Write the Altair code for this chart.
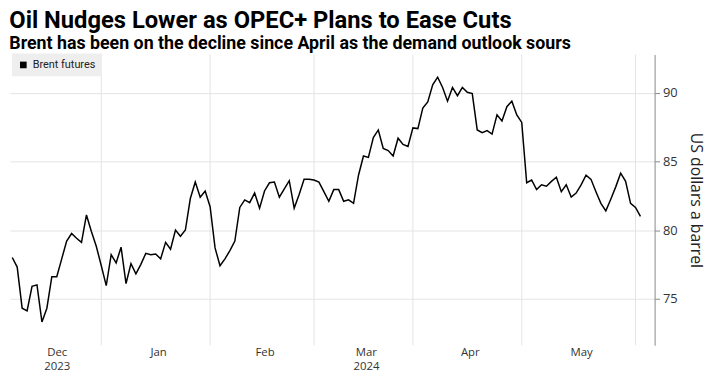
import altair as alt
import pandas as pd

# Brent futures, one value per trading day
prices = [
    78.0, 77.3, 74.3, 74.1, 75.9, 76.0, 73.3, 74.3, 76.6, 76.6,
    77.9, 79.2, 79.75, 79.4, 79.1, 81.1, 79.9, 78.8, 77.4, 75.95,
    78.2, 77.6, 78.75, 76.1, 77.55, 76.8, 77.5, 78.3, 78.2, 78.25,
    77.9, 79.1, 78.6, 80.0, 79.55, 80.0, 82.3, 83.5, 82.4, 82.85,
    81.7, 78.7, 77.4, 77.9, 78.5, 79.2, 81.65, 82.2, 82.0, 82.7,
    81.6, 82.85, 83.45, 83.5, 82.4, 83.0, 83.6, 81.6, 82.6, 83.7,
    83.7, 83.65, 83.5, 82.8, 82.1, 82.95, 82.95, 82.1, 82.2, 81.95,
    84.0, 85.4, 85.3, 86.75, 87.3, 85.95, 85.8, 85.4, 86.7, 86.25,
    86.1, 87.45, 87.4, 88.9, 89.35, 90.6, 91.15, 90.4, 89.4, 90.4,
    89.8, 90.4, 90.05, 89.95, 87.3, 87.1, 87.25, 87.0, 88.4, 87.95,
    89.0, 89.4, 88.4, 87.85, 83.45, 83.65, 82.95, 83.3, 83.2, 83.55,
    83.85, 82.8, 83.3, 82.4, 82.7, 83.3, 84.0, 83.7, 82.8, 81.95,
    81.4, 82.25, 83.15, 84.15, 83.55, 81.95, 81.65, 81.0,
]
start_date = "2023-12-04"
end_date = "2024-06-03"
holidays = ["2023-12-25", "2024-01-01", "2024-03-29"]
series_name = "Brent futures"
month_labels = {"2023-12": ["Dec", "2023"], "2024-01": "Jan", "2024-02": "Feb",
                "2024-03": ["Mar", "2024"], "2024-04": "Apr", "2024-05": "May"}
y_ticks = [75, 80, 85, 90]

title = "Oil Nudges Lower as OPEC+ Plans to Ease Cuts"
subtitle = "Brent has been on the decline since April as the demand outlook sours"
y_title = "US dollars a barrel"

dates = pd.bdate_range(start_date, end_date, freq="C", holidays=holidays)
df = pd.DataFrame({"idx": range(len(prices)), "date": dates[:len(prices)],
                   "price": prices, "series": series_name})
df["month"] = df["date"].dt.strftime("%Y-%m")
grp = df.groupby("month")["idx"]
month_end = grp.max()
month_mid = grp.mean()

rules_df = pd.DataFrame({"idx": [int(month_end[m]) for m in month_labels]})
mids = {m: float(month_mid[m]) for m in month_labels}

def js(v):
    if isinstance(v, list):
        return "[" + ",".join("'%s'" % s for s in v) + "]"
    return "'%s'" % v

label_expr = ""
for m, lab in month_labels.items():
    label_expr += "datum.value == %s ? %s : " % (repr(mids[m]), js(lab))
label_expr += "''"

FONT = "Open Sans"
x_scale = alt.Scale(domain=[-0.46, 129.86], nice=False, zero=False)
y_scale = alt.Scale(domain=[71.6, 92.8], nice=False, zero=False)

rules = alt.Chart(rules_df).mark_rule(color="#e4e4e4", strokeWidth=1).encode(
    x=alt.X("idx:Q", scale=x_scale)
)

line = alt.Chart(df).mark_line(strokeWidth=1.5).encode(
    x=alt.X("idx:Q", scale=x_scale,
            axis=alt.Axis(title=None, grid=False, ticks=False, domain=False,
                          values=list(mids.values()), labelExpr=label_expr,
                          labelFont=FONT, labelFontSize=11.5, labelColor="#333333",
                          labelPadding=1, labelLineHeight=15, labelOverlap=False)),
    y=alt.Y("price:Q", scale=y_scale,
            axis=alt.Axis(orient="right", values=y_ticks, title=y_title,
                          titleAngle=90, titleFont=FONT, titleFontSize=16,
                          titleFontWeight="normal", titleColor="#222222",
                          titlePadding=10, labelFont=FONT, labelFontSize=13,
                          labelColor="#333333", labelPadding=3,
                          tickSize=5, tickColor="#888888", domainColor="#888888",
                          gridColor="#e4e4e4")),
    color=alt.Color("series:N", scale=alt.Scale(range=["black"]),
                    legend=alt.Legend(title=None, orient="none", legendX=2, legendY=-1,
                                      fillColor="#eeeeee", padding=6,
                                      symbolType="square", symbolSize=45,
                                      symbolFillColor="black", symbolStrokeWidth=0,
                                      labelFont="Roboto", labelFontSize=11,
                                      labelColor="#222222")),
)

chart = alt.layer(rules, line).properties(
    width=652, height=294,
    padding={"left": 2, "top": 45, "right": 53, "bottom": 26},
    autosize=alt.AutoSizeParams(type="none"),
    title=alt.TitleParams(text=title, subtitle=subtitle, anchor="start",
                          font="Roboto", fontSize=24, fontWeight="bold", color="black",
                          subtitleFont="Roboto", subtitleFontSize=18,
                          subtitleFontWeight="bold", subtitleColor="black",
                          subtitlePadding=2, offset=1),
).configure_view(stroke=None)

chart.save("out.html", embed_options={"renderer": "svg", "actions": False})
